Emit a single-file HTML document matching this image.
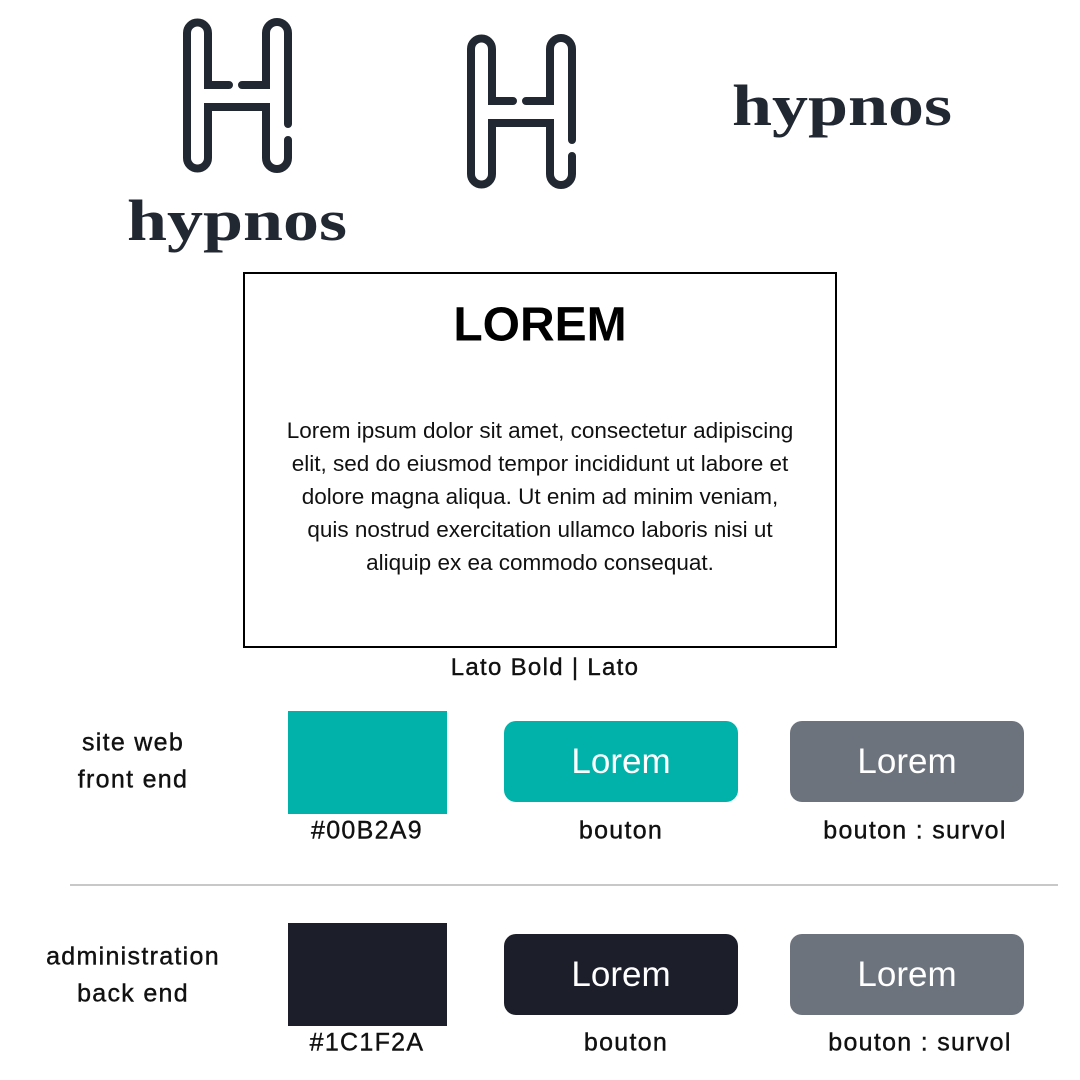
<!DOCTYPE html>
<html><head><style>
body{margin:0;width:1080px;height:1080px;background:#fff;position:relative;overflow:hidden;font-family:"Liberation Sans",sans-serif}
.a{position:absolute}
.t{position:absolute;transform:translate(-50%,-50%);white-space:nowrap;color:#111;font-size:25px;letter-spacing:1.3px;-webkit-text-stroke:0.4px #111}
.btn{position:absolute;width:234px;height:81px;border-radius:12px;color:#fff;font-size:35px;display:flex;align-items:center;justify-content:center}
</style></head><body>
<svg class="a" style="left:0;top:0" width="1080" height="270">
<defs><g id="H" fill="none" stroke="#222831" stroke-width="8" stroke-linecap="round">
<path d="M229 85 L208 85 L208 33 A10.5 10.5 0 0 0 187 33 L187 158 A10.5 10.5 0 0 0 208 158 L208 107 L266 107 L266 158 A11 11 0 0 0 288 158 L288 140"/>
<path d="M288 124 L288 33 A11 11 0 0 0 266 33 L266 85 L242 85"/>
</g></defs>
<use href="#H"/>
<use href="#H" transform="translate(284,16)"/>
<text x="127" y="240" font-family="Liberation Serif" font-weight="bold" font-size="58" fill="#222831" textLength="220" lengthAdjust="spacingAndGlyphs">hypnos</text>
<text x="732" y="125" font-family="Liberation Serif" font-weight="bold" font-size="58" fill="#222831" textLength="220" lengthAdjust="spacingAndGlyphs">hypnos</text>
</svg>
<div class="a" style="left:243px;top:272px;width:590px;height:372px;border:2px solid #000"></div>
<div class="t" style="left:540px;top:325px;font-size:48px;font-weight:bold;color:#000;letter-spacing:0;-webkit-text-stroke:0">LOREM</div>
<div class="a" style="left:243px;top:414px;width:594px;text-align:center;font-size:22.5px;line-height:33px;color:#111">Lorem ipsum dolor sit amet, consectetur adipiscing<br>elit, sed do eiusmod tempor incididunt ut labore et<br>dolore magna aliqua. Ut enim ad minim veniam,<br>quis nostrud exercitation ullamco laboris nisi ut<br>aliquip ex ea commodo consequat.</div>
<div class="t" style="left:545px;top:668px;font-size:24px;">Lato Bold | Lato</div>

<div class="t" style="left:133px;top:743px">site web</div>
<div class="t" style="left:133px;top:780px">front end</div>
<div class="a" style="left:288px;top:711px;width:159px;height:103px;background:#00B2A9"></div>
<div class="btn" style="left:504px;top:721px;background:#00B2A9">Lorem</div>
<div class="btn" style="left:790px;top:721px;background:#6c737d">Lorem</div>
<div class="t" style="left:367px;top:831px">#00B2A9</div>
<div class="t" style="left:621px;top:831px">bouton</div>
<div class="t" style="left:915px;top:831px">bouton : survol</div>

<div class="a" style="left:70px;top:884px;width:988px;height:2px;background:#c8c8c8"></div>

<div class="t" style="left:133px;top:957px">administration</div>
<div class="t" style="left:133px;top:994px">back end</div>
<div class="a" style="left:288px;top:923px;width:159px;height:103px;background:#1C1F2A"></div>
<div class="btn" style="left:504px;top:934px;background:#1C1F2A">Lorem</div>
<div class="btn" style="left:790px;top:934px;background:#6c737d">Lorem</div>
<div class="t" style="left:367px;top:1043px">#1C1F2A</div>
<div class="t" style="left:626px;top:1043px">bouton</div>
<div class="t" style="left:920px;top:1043px">bouton : survol</div>
</body></html>
